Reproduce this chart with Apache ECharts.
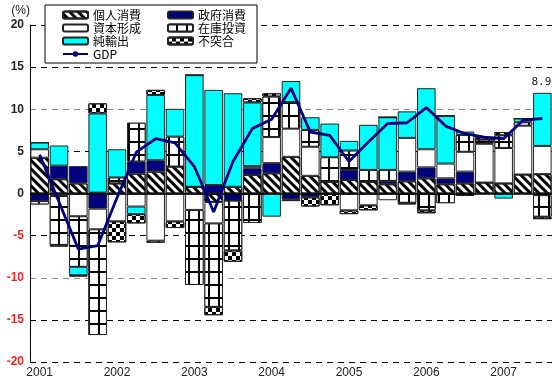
<!DOCTYPE html>
<html>
<head>
<meta charset="utf-8">
<script src="https://cdn.jsdelivr.net/npm/echarts@6/dist/echarts.min.js"></script>
<style>
  html, body { margin: 0; padding: 0; background: #fff; }
  #chart { width: 552px; height: 383px; }
</style>
</head>
<body>
<div id="chart"></div>
<script>
// 四半期 (2001Q1 - 2007Q3)
const quarters = [
  '2001Q1', '2001Q2', '2001Q3', '2001Q4',
  '2002Q1', '2002Q2', '2002Q3', '2002Q4',
  '2003Q1', '2003Q2', '2003Q3', '2003Q4',
  '2004Q1', '2004Q2', '2004Q3', '2004Q4',
  '2005Q1', '2005Q2', '2005Q3', '2005Q4',
  '2006Q1', '2006Q2', '2006Q3', '2006Q4',
  '2007Q1', '2007Q2', '2007Q3'
]

// 寄与度 (%)
const consumption = [4.25, 1.7, 1.2, 0.1, 1.2, 2.35, 2.6, 3.2, 0.8, -1.0, 0.8, 2.2, 2.4, 4.35, 2.1, 1.4, 1.6, 1.4, 1.1, 1.45, 1.8, 1.1, 1.2, 1.3, 1.2, 2.25, 2.3]
const government = [-0.9, 1.6, 2.05, -1.8, 0, 1.45, 1.35, 0, 0, 1.0, -0.85, 0.8, 1.2, -0.7, -0.45, 0, 1.2, 0, 0.4, 1.15, 1.3, 0.7, 1.4, 0, 0, 0, -0.2]
const capital = [1.0, -0.3, -2.7, -2.45, -3.3, -1.55, -5.6, -3.3, -1.95, -2.55, 0, 0.25, 3.1, 3.35, 3.45, 0, -2.0, -1.4, -0.8, 4.0, 2.15, 1.75, 2.35, 4.6, 4.2, 5.8, 3.35]
const inventory = [-0.4, -5.8, -6.0, -12.55, 0.7, 4.6, -0.25, 3.55, -8.9, -9.9, -5.9, -3.5, 4.8, 3.15, 2.0, 2.9, 2.3, 1.4, 1.3, -1.1, -2.0, -1.15, 2.0, 0.5, 1.5, 0.4, -2.55]
const netExports = [0.8, 2.4, -1.0, 9.4, 3.35, -0.9, 7.75, 3.3, 13.25, 11.3, 11.1, 7.55, -2.75, 2.5, 1.5, 4.0, 1.15, 5.35, 6.25, 3.15, 7.25, 5.65, 0.4, 0, -0.6, 0.45, 6.3]
const discrepancy = [0, -0.2, -0.15, 1.2, -2.5, -1.1, 0.6, -0.8, 0, -1.0, -1.35, 0.5, 0.4, -0.2, -1.1, -1.4, -0.45, -0.6, 0, -0.2, -0.35, 0, -0.3, 0.3, 0.4, 0, -0.3]
const gdp = [4.6, -1.0, -6.6, -6.2, -0.5, 4.9, 6.5, 6.0, 3.2, -2.2, 3.8, 7.7, 8.8, 12.5, 7.3, 6.9, 3.8, 6.1, 8.3, 8.4, 10.2, 8.0, 7.1, 6.7, 6.5, 8.7, 8.9]

const myChart = echarts.init(document.getElementById('chart'))

const border = { borderColor: '#222', borderWidth: 1 }
const legendText = { fontFamily: 'Noto Sans CJK JP', fontSize: 12, lineHeight: 12, color: '#000' }

function barSeries(name, data, itemStyle) {
  return {
    name,
    type: 'bar',
    stack: 'total',
    barCategoryGap: '4%',
    data,
    itemStyle: Object.assign({}, border, itemStyle)
  }
}

const option = {
  animation: false,
  grid: { left: 30, right: 0, top: 25, bottom: 21 },
  legend: [
    {
      left: 45,
      top: 5,
      orient: 'vertical',
      padding: [4, 116, 3, 17],
      itemGap: 1,
      itemWidth: 25,
      itemHeight: 7,
      backgroundColor: '#fff',
      borderColor: '#000',
      borderWidth: 1,
      textStyle: legendText,
      data: ['個人消費', '資本形成', '純輸出', 'GDP']
    },
    {
      left: 167,
      top: 9,
      z: 5,
      orient: 'vertical',
      padding: 0,
      itemGap: 1,
      itemWidth: 25,
      itemHeight: 7,
      textStyle: legendText,
      data: ['政府消費', '在庫投資', '不突合']
    }
  ],
  xAxis: {
    type: 'category',
    data: quarters,
    axisLine: { show: false },
    axisTick: { show: false },
    axisLabel: {
      interval: 3,
      margin: 5,
      color: '#222',
      fontFamily: 'Liberation Sans',
      fontSize: 12,
      formatter: v => v.slice(0, 4)
    }
  },
  yAxis: {
    type: 'value',
    min: -20,
    max: 20,
    interval: 5,
    name: '(%)',
    nameGap: 8,
    nameTextStyle: { align: 'right', color: '#222', fontFamily: 'Liberation Sans', fontSize: 12 },
    axisLine: { show: true, lineStyle: { color: '#000', width: 1 } },
    axisTick: { show: false },
    axisLabel: {
      margin: 6,
      fontFamily: 'Liberation Sans',
      fontSize: 12,
      fontWeight: 'bold',
      color: v => (v < 0 ? '#ff2020' : '#222')
    },
    splitLine: {
      lineStyle: {
        type: [6, 5],
        width: 1,
        color: ['#000', '#000', '#888', '#000', '#000', '#000', '#888', '#000', '#000']
      }
    }
  },
  series: [
    barSeries('個人消費', consumption, {
      color: '#fff',
      decal: {
        symbol: 'rect',
        symbolSize: 1,
        color: '#000',
        dashArrayX: [1, 0],
        dashArrayY: [3, 3],
        rotation: Math.PI / 4
      }
    }),
    barSeries('政府消費', government, { color: '#000080' }),
    barSeries('資本形成', capital, { color: '#fff' }),
    barSeries('在庫投資', inventory, {
      color: '#000',
      decal: {
        symbol: 'rect',
        symbolSize: 1,
        color: '#fff',
        dashArrayX: [8, 2],
        dashArrayY: [11, 2]
      }
    }),
    barSeries('純輸出', netExports, { color: '#00ffff' }),
    barSeries('不突合', discrepancy, {
      color: '#fff',
      decal: {
        symbol: 'rect',
        symbolSize: 1,
        color: '#000',
        dashArrayX: [[4, 4], [0, 4, 4, 0]],
        dashArrayY: [4, 0]
      }
    }),
    {
      name: 'GDP',
      type: 'line',
      data: gdp,
      symbol: 'none',
      z: 5,
      lineStyle: { color: '#000080', width: 2.8 },
      itemStyle: { color: '#000080' },
      // 最新値ラベル
      endLabel: {
        show: true,
        distance: 0,
        align: 'center',
        verticalAlign: 'bottom',
        offset: [-1, -31],
        fontFamily: 'DejaVu Sans Mono',
        fontSize: 11,
        color: '#222',
        formatter: p => p.value.toFixed(1)
      },
      markLine: {
        silent: true,
        symbol: 'none',
        label: { show: false },
        lineStyle: { color: '#000', type: 'solid', width: 1.5 },
        data: [{ yAxis: 0 }]
      }
    }
  ]
}

myChart.setOption(option)
</script>
</body>
</html>
